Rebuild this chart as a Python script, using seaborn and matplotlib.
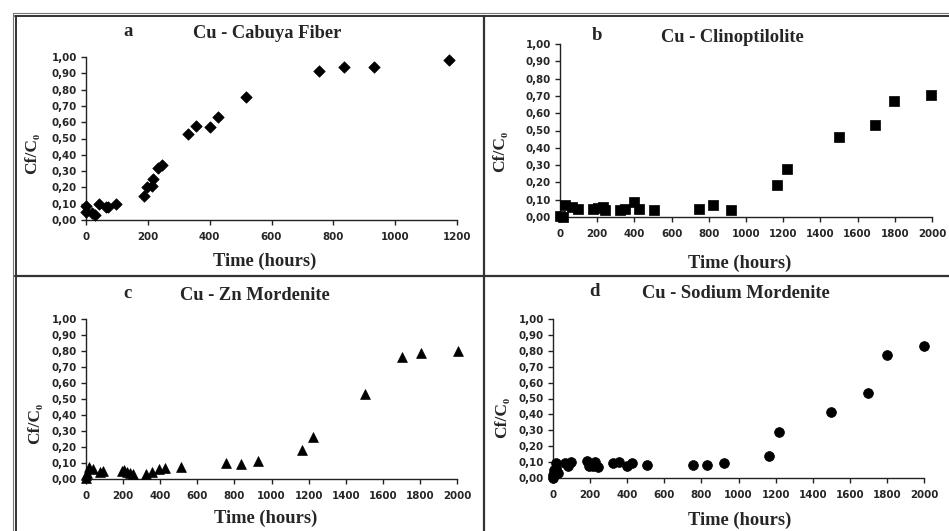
import numpy as np
import pandas as pd
import matplotlib
matplotlib.use("Agg")
import matplotlib.pyplot as plt
import seaborn as sns
from matplotlib.lines import Line2D
from matplotlib.ticker import FuncFormatter

# ---- data ----
a_time = [0, 0, 20, 28, 43, 65, 72, 97, 188, 196, 212, 218, 234, 245, 331, 356, 401, 428, 517, 755, 836, 933, 1173]
a_ratio = [0.05, 0.088, 0.04, 0.032, 0.098, 0.078, 0.08, 0.098, 0.148, 0.20, 0.21, 0.25, 0.32, 0.34, 0.527, 0.578, 0.568, 0.63, 0.752, 0.916, 0.94, 0.94, 0.98]

b_time = [0, 18, 25, 63, 95, 180, 206, 233, 240, 323, 350, 400, 425, 508, 748, 825, 922, 1164, 1220, 1498, 1693, 1794, 1995]
b_ratio = [0.005, 0.0, 0.07, 0.058, 0.048, 0.048, 0.052, 0.058, 0.042, 0.042, 0.048, 0.088, 0.048, 0.042, 0.048, 0.069, 0.042, 0.186, 0.28, 0.463, 0.532, 0.672, 0.708]

c_time = [0, 2, 8, 18, 40, 76, 94, 192, 205, 219, 237, 252, 322, 358, 396, 426, 511, 755, 834, 926, 1167, 1223, 1502, 1701, 1804, 2004]
c_ratio = [0.005, 0.027, 0.04, 0.075, 0.062, 0.045, 0.052, 0.048, 0.058, 0.045, 0.037, 0.033, 0.033, 0.042, 0.06, 0.068, 0.078, 0.098, 0.093, 0.115, 0.18, 0.265, 0.53, 0.765, 0.785, 0.798]

d_time = [0, 2, 5, 18, 18, 27, 63, 81, 99, 185, 194, 216, 225, 243, 323, 354, 400, 426, 507, 755, 832, 922, 1163, 1218, 1497, 1696, 1800, 1998]
d_ratio = [0.0, 0.02, 0.05, 0.06, 0.094, 0.03, 0.094, 0.073, 0.098, 0.105, 0.077, 0.073, 0.098, 0.069, 0.094, 0.10, 0.073, 0.094, 0.08, 0.08, 0.08, 0.094, 0.14, 0.287, 0.417, 0.535, 0.776, 0.828]

panel_letters = ["a", "b", "c", "d"]
panel_titles = ["Cu - Cabuya Fiber", "Cu - Clinoptilolite", "Cu - Zn Mordenite", "Cu - Sodium Mordenite"]
x_max = [1200, 2000, 2000, 2000]
y_ticks = [0.0, 0.1, 0.2, 0.3, 0.4, 0.5, 0.6, 0.7, 0.8, 0.9, 1.0]
x_label = "Time (hours)"
y_label = "Cf/C\u2080"

sns.set_theme(style="white")
plt.rcParams["font.family"] = ["DejaVu Sans"]

W, H = 949, 531
fig = plt.figure(figsize=(W / 100, H / 100), dpi=100)

def fx(px):
    return px / W

def fy(py):
    return 1 - py / H

# axes rectangles in pixels: left, right, top, bottom
boxes = [
    (86, 457, 57, 220),
    (560, 932, 44, 217),
    (86, 457, 319, 479),
    (553, 924, 319, 478),
]
markers = ["D", "s", "^", "o"]
sizes = [34, 50, 50, 50]
datasets = [(a_time, a_ratio), (b_time, b_ratio), (c_time, c_ratio), (d_time, d_ratio)]

# text positions in pixels
title_pos = [(267, 34), (732, 37), (255, 295), (736, 293)]
letter_pos = [(128, 32), (597, 35), (128, 294), (594, 292)]
xlabel_pos = [(265, 261), (740, 263), (266, 518), (740, 520)]
ylabel_pos = [(32, 153), (500, 151), (35, 423), (502, 417)]

serif = ["Liberation Serif", "DejaVu Serif"]

for i in range(4):
    l, r, t, b = boxes[i]
    ax = fig.add_axes([fx(l), fy(b), fx(r) - fx(l), fy(t) - fy(b)])
    df = pd.DataFrame({"time": datasets[i][0], "ratio": datasets[i][1]})
    sns.scatterplot(data=df, x="time", y="ratio", marker=markers[i], s=sizes[i],
                    color="black", edgecolor="black", linewidth=0.5, ax=ax, clip_on=False, zorder=5)
    ax.set_xlim(0, x_max[i])
    ax.set_ylim(0, 1.0)
    ax.set_xticks(np.arange(0, x_max[i] + 1, 200))
    ax.set_yticks(y_ticks)
    ax.yaxis.set_major_formatter(FuncFormatter(lambda v, p: f"{v:.2f}".replace(".", ",")))
    ax.set_xlabel("")
    ax.set_ylabel("")
    for s in ["top", "right"]:
        ax.spines[s].set_visible(False)
    for s in ["left", "bottom"]:
        ax.spines[s].set_color("#222222")
        ax.spines[s].set_linewidth(1.0)
    ax.tick_params(axis="both", which="major", direction="out", length=3.5, width=1.0,
                   color="#222222", labelsize=7.4, pad=3, left=True, bottom=True)
    ax.tick_params(axis="x", pad=5)
    for lab in ax.get_xticklabels() + ax.get_yticklabels():
        lab.set_fontweight("bold")
    ax.patch.set_alpha(0)

    fig.text(fx(title_pos[i][0]), fy(title_pos[i][1]), panel_titles[i], ha="center", va="center",
             family=serif, fontweight="bold", fontsize=13.3)
    fig.text(fx(letter_pos[i][0]), fy(letter_pos[i][1]), panel_letters[i], ha="center", va="center",
             family=serif, fontweight="bold", fontsize=13.5)
    fig.text(fx(xlabel_pos[i][0]), fy(xlabel_pos[i][1]), x_label, ha="center", va="center",
             family=serif, fontweight="bold", fontsize=13.3)
    fig.text(fx(ylabel_pos[i][0]), fy(ylabel_pos[i][1]), y_label, ha="center", va="center",
             rotation=90, family=serif, fontweight="bold", fontsize=12.5)

# frame lines (double outer border + dividers)
def hline(y, x0, x1, lw, c):
    fig.add_artist(Line2D([fx(x0), fx(x1)], [fy(y), fy(y)], lw=lw, color=c))

def vline(x, y0, y1, lw, c):
    fig.add_artist(Line2D([fx(x), fx(x)], [fy(y0), fy(y1)], lw=lw, color=c))

hline(13, 12.5, W, 0.8, "#777777")
hline(15.8, 15.5, W, 1.4, "#333333")
vline(12.8, 13, H, 0.8, "#777777")
vline(15.8, 15.5, H, 1.4, "#333333")
vline(483.5, 15.5, H, 1.6, "#333333")
hline(276, 15.5, W, 1.6, "#333333")

fig.savefig("out.png", dpi=100)
